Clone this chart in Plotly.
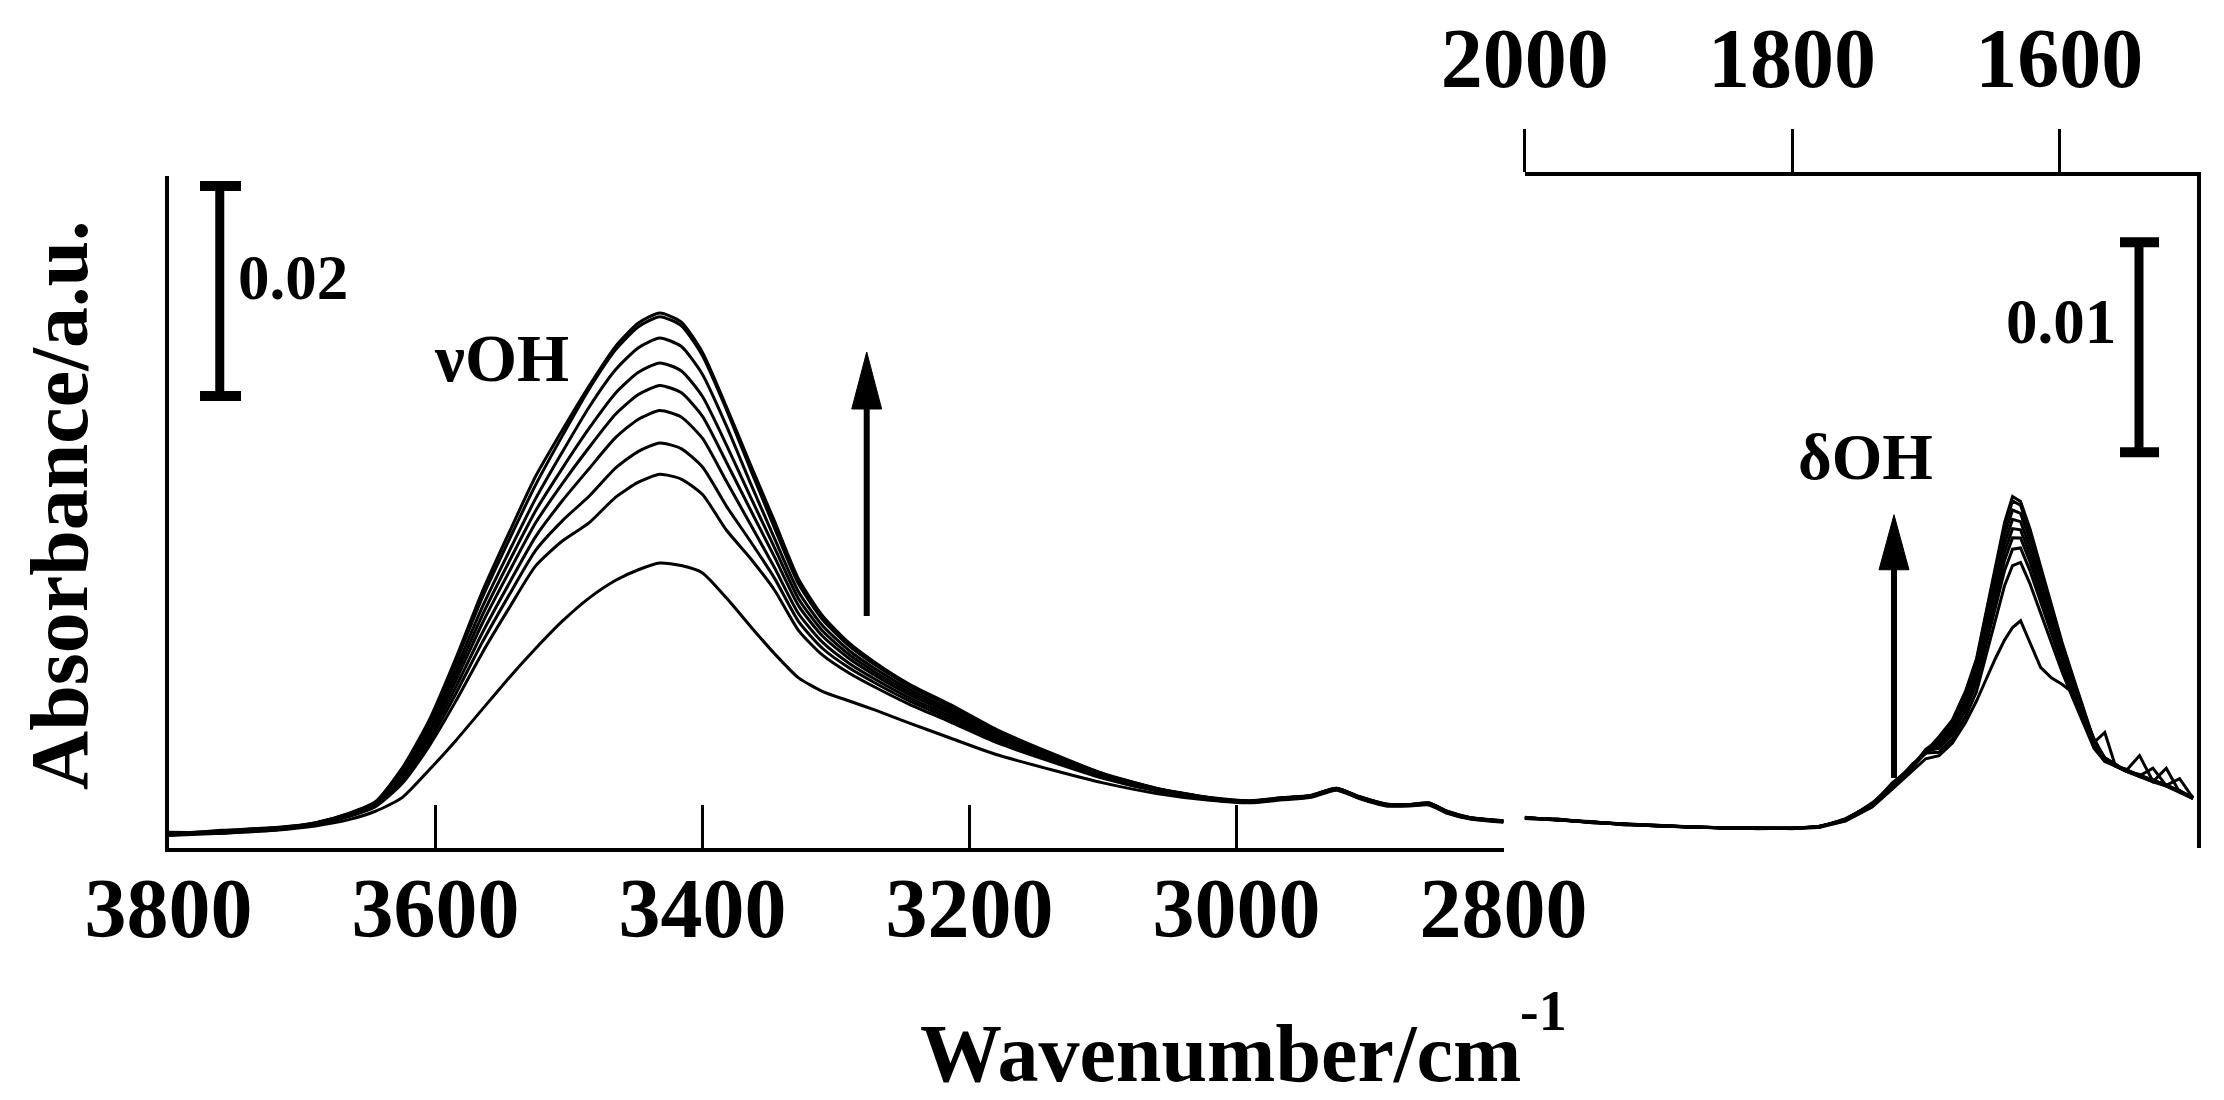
import plotly.graph_objects as go

# ---------------- data ----------------
W_L = [3800, 3760, 3720, 3690, 3665, 3645, 3625, 3605, 3585, 3565, 3545, 3525, 3505, 3485, 3465,
       3448, 3432, 3416, 3400, 3382, 3364, 3346, 3328, 3310, 3290, 3270, 3245, 3215, 3180, 3140,
       3100, 3060, 3020, 2990, 2965, 2945, 2925, 2908, 2888, 2870, 2856, 2842, 2825, 2800]

L1 = [.00140, .00160, .00190, .00240, .00330, .00440, .00760, .01210, .01800, .02440, .03000, .03540, .03980, .04400, .04780,
      .05000, .05095, .05010, .04720, .04200, .03650, .03110, .02560, .02210, .01950, .01760, .01560, .01370, .01130, .00910,
      .00710, .00570, .00480, .00450, .00480, .00500, .00570, .00490, .00420, .00415, .00430, .00350, .00290, .00260]
L2 = [.00150, .00150, .00182, .00239, .00327, .00436, .00746, .01187, .01761, .02384, .02931, .03458, .03925, .04370, .04747,
      .04965, .05060, .04975, .04689, .04173, .03604, .03047, .02513, .02174, .01923, .01738, .01542, .01354, .01118, .00902,
      .00706, .00568, .00479, .00448, .00478, .00498, .00568, .00488, .00418, .00414, .00428, .00348, .00289, .00259]
L3 = [.00128, .00168, .00195, .00236, .00322, .00428, .00724, .01149, .01699, .02294, .02821, .03327, .03771, .04198, .04557,
      .04765, .04857, .04778, .04510, .04018, .03473, .02946, .02438, .02116, .01879, .01702, .01512, .01328, .01099, .00889,
      .00698, .00564, .00477, .00446, .00476, .00496, .00566, .00486, .00416, .00412, .00426, .00346, .00287, .00258]
L4 = [.00142, .00145, .00178, .00234, .00318, .00422, .00704, .01116, .01644, .02216, .02724, .03212, .03616, .03996, .04334,
      .04530, .04619, .04546, .04300, .03836, .03342, .02858, .02372, .02066, .01840, .01670, .01486, .01306, .01082, .00878,
      .00692, .00560, .00475, .00444, .00474, .00494, .00564, .00484, .00414, .00411, .00424, .00344, .00286, .00256]
L5 = [.00125, .00162, .00192, .00232, .00314, .00416, .00684, .01083, .01589, .02138, .02627, .03097, .03470, .03814, .04133,
      .04319, .04405, .04337, .04111, .03672, .03219, .02770, .02306, .02016, .01802, .01639, .01460, .01284, .01065, .00867,
      .00686, .00557, .00473, .00442, .00472, .00492, .00562, .00482, .00412, .00410, .00422, .00342, .00285, .00255]
L6 = [.00138, .00150, .00175, .00230, .00309, .00409, .00662, .01046, .01527, .02048, .02517, .02966, .03307, .03612, .03910,
      .04084, .04166, .04105, .03901, .03490, .03080, .02669, .02231, .01958, .01758, .01603, .01430, .01258, .01046, .00854,
      .00679, .00553, .00471, .00440, .00470, .00490, .00560, .00480, .00410, .00408, .00420, .00340, .00283, .00253]
L7 = [.00145, .00140, .00188, .00227, .00304, .00401, .00640, .01008, .01465, .01958, .02407, .02835, .03116, .03350, .03620,
      .03778, .03857, .03804, .03628, .03254, .02919, .02568, .02156, .01900, .01714, .01567, .01401, .01232, .01027, .00841,
      .00671, .00549, .00469, .00438, .00468, .00488, .00558, .00478, .00408, .00406, .00418, .00338, .00281, .00251]
L8 = [.00122, .00158, .00172, .00224, .00299, .00393, .00614, .00966, .01394, .01858, .02282, .02687, .02924, .03097, .03342,
      .03484, .03559, .03514, .03366, .03026, .02757, .02455, .02071, .01836, .01664, .01526, .01368, .01204, .01005, .00827,
      .00663, .00544, .00467, .00436, .00466, .00486, .00556, .00476, .00406, .00404, .00416, .00336, .00280, .00250]
L9 = [.00120, .00140, .00170, .00210, .00270, .00350, .00480, .00740, .01020, .01320, .01620, .01900, .02160, .02380, .02550,
      .02650, .02714, .02690, .02620, .02380, .02110, .01850, .01620, .01490, .01400, .01310, .01190, .01050, .00890, .00750,
      .00620, .00520, .00455, .00430, .00460, .00480, .00550, .00470, .00400, .00400, .00410, .00330, .00275, .00245]
LEFT_SERIES = [L1, L2, L3, L4, L5, L6, L7, L8, L9]

W_R = [2000, 1975, 1950, 1925, 1900, 1875, 1850, 1825, 1800, 1780, 1760, 1740, 1725, 1710, 1700,
       1690, 1680, 1670, 1662, 1655, 1648, 1641, 1635, 1629, 1622, 1614, 1606, 1598, 1590, 1582,
       1574, 1566, 1558, 1550, 1540, 1530, 1520, 1510, 1500]

R1 = [.00144, .00135, .00124, .00113, .00106, .00100, .00096, .00094, .00094, .00100, .00135, .00210, .00300, .00390, .00460,
      .00530, .00610, .00750, .00900, .01120, .01330, .01550, .01674, .01650, .01520, .01340, .01160, .00980, .00820, .00660,
      .00510, .00430, .00395, .00370, .00345, .00320, .00300, .00270, .00240]
R2 = [.00140, .00138, .00120, .00116, .00104, .00102, .00093, .00097, .00092, .00104, .00130, .00215, .00290, .00400, .00450,
      .00525, .00604, .00742, .00890, .01107, .01314, .01531, .01653, .01632, .01504, .01326, .01149, .00971, .00813, .00656,
      .00508, .00429, .00400, .00365, .00350, .00315, .00380, .00265, .00245]
R3 = [.00146, .00132, .00126, .00110, .00108, .00098, .00098, .00092, .00096, .00098, .00140, .00205, .00310, .00385, .00470,
      .00515, .00592, .00726, .00869, .01080, .01280, .01491, .01609, .01593, .01469, .01296, .01124, .00952, .00799, .00646,
      .00503, .00550, .00390, .00375, .00340, .00325, .00295, .00275, .00235]
R4 = [.00142, .00136, .00122, .00114, .00105, .00101, .00095, .00095, .00093, .00101, .00132, .00212, .00295, .00395, .00455,
      .00506, .00580, .00709, .00848, .01052, .01246, .01450, .01565, .01554, .01433, .01267, .01100, .00933, .00785, .00637,
      .00498, .00424, .00398, .00368, .00440, .00318, .00302, .00268, .00242]
R5 = [.00145, .00134, .00125, .00112, .00107, .00099, .00097, .00093, .00095, .00099, .00137, .00208, .00305, .00392, .00465,
      .00496, .00567, .00693, .00827, .01024, .01212, .01410, .01521, .01515, .01398, .01237, .01076, .00914, .00771, .00628,
      .00493, .00422, .00392, .00372, .00348, .00322, .00298, .00330, .00238]
R6 = [.00143, .00137, .00123, .00115, .00106, .00100, .00096, .00096, .00094, .00102, .00133, .00211, .00298, .00388, .00458,
      .00486, .00555, .00676, .00806, .00997, .01179, .01369, .01477, .01476, .01363, .01207, .01051, .00896, .00757, .00618,
      .00489, .00419, .00396, .00366, .00344, .00380, .00297, .00272, .00240]
R7 = [.00144, .00135, .00124, .00113, .00106, .00100, .00095, .00094, .00095, .00100, .00135, .00209, .00302, .00391, .00462,
      .00474, .00540, .00657, .00781, .00964, .01138, .01321, .01423, .01429, .01321, .01172, .01022, .00873, .00740, .00607,
      .00483, .00416, .00393, .00369, .00346, .00321, .00299, .00269, .00239]
R8 = [.00144, .00135, .00124, .00113, .00106, .00100, .00096, .00094, .00094, .00100, .00134, .00207, .00298, .00385, .00452,
      .00456, .00519, .00627, .00744, .00915, .01078, .01249, .01345, .01360, .01259, .01119, .00979, .00840, .00715, .00591,
      .00474, .00412, .00390, .00367, .00344, .00319, .00297, .00268, .00238]
R9 = [.00140, .00133, .00122, .00112, .00105, .00099, .00095, .00093, .00093, .00098, .00128, .00195, .00280, .00365, .00425,
      .00440, .00500, .00600, .00700, .00800, .00900, .00990, .01050, .01082, .00980, .00860, .00810, .00780, .00740, .00640,
      .00520, .00425, .00390, .00365, .00340, .00315, .00295, .00265, .00235]
RIGHT_SERIES = [R1, R2, R3, R4, R5, R6, R7, R8, R9]

LEFT_TICKS = [3800, 3600, 3400, 3200, 3000, 2800]
RIGHT_TICKS = [2000, 1800, 1600]

SCALE_LEFT = 0.02
SCALE_RIGHT = 0.01

# ---------------- layout helpers ----------------
FW, FH = 2224, 1100
def px(x):
    return x / FW
def py(y):
    return 1 - y / FH

FONT = "Liberation Serif, Times New Roman, serif"
Y_DOMAIN = [py(840), py(168)]

fig = go.Figure()
for s in LEFT_SERIES:
    fig.add_trace(go.Scatter(x=W_L, y=s, xaxis="x", yaxis="y", mode="lines",
                             line=dict(color="black", width=3, shape="spline", smoothing=0.6),
                             showlegend=False, hoverinfo="skip"))
for s in RIGHT_SERIES:
    fig.add_trace(go.Scatter(x=W_R, y=s, xaxis="x2", yaxis="y2", mode="lines",
                             line=dict(color="black", width=3),
                             showlegend=False, hoverinfo="skip"))

tickfont = dict(family=FONT, size=84, color="black", weight="bold")

fig.update_layout(
    template="none",
    width=FW, height=FH,
    margin=dict(l=0, r=0, t=0, b=0, autoexpand=False),
    paper_bgcolor="white", plot_bgcolor="white",
    xaxis=dict(domain=[px(160.5), px(1495.5)], range=[3800, 2800], anchor="y", automargin=False,
               tickmode="array", tickvals=LEFT_TICKS, ticks="inside", ticklen=43, tickwidth=3,
               tickcolor="black", showline=True, linewidth=4, linecolor="black",
               showgrid=False, zeroline=False, tickfont=tickfont, ticklabelstandoff=-16),
    yaxis=dict(domain=Y_DOMAIN, range=[0, 0.064], anchor="x", showline=True, linewidth=4,
               automargin=False, linecolor="black", showticklabels=False, ticks="",
               showgrid=False, zeroline=False),
    xaxis2=dict(domain=[px(1516.7), px(2189)], range=[2000, 1497], anchor="y2", side="top",
                automargin=False, tickmode="array", tickvals=RIGHT_TICKS, ticks="outside",
                ticklen=43, tickwidth=3, tickcolor="black", showline=True, linewidth=4,
                linecolor="black", showgrid=False, zeroline=False, tickfont=tickfont,
                ticklabelstandoff=8),
    yaxis2=dict(domain=Y_DOMAIN, range=[0, 0.032], anchor="x2", side="right", showline=True,
                automargin=False, linewidth=4, linecolor="black", showticklabels=False, ticks="",
                showgrid=False, zeroline=False),
)

shapes = []
# scale bar left (0.02)
lb_x, lb_y0 = 3761.6, 0.04305
shapes.append(dict(type="line", xref="x", yref="y", x0=lb_x, x1=lb_x, y0=lb_y0, y1=lb_y0 + SCALE_LEFT,
                   line=dict(color="black", width=9)))
for yy in (lb_y0, lb_y0 + SCALE_LEFT):
    shapes.append(dict(type="line", xref="x", yref="y", x0=3776.4, x1=3745.7, y0=yy, y1=yy,
                       line=dict(color="black", width=10)))
# scale bar right (0.01)
rb_x, rb_y0 = 1540.4, 0.01884
shapes.append(dict(type="line", xref="x2", yref="y2", x0=rb_x, x1=rb_x, y0=rb_y0, y1=rb_y0 + SCALE_RIGHT,
                   line=dict(color="black", width=9)))
for yy in (rb_y0, rb_y0 + SCALE_RIGHT):
    shapes.append(dict(type="line", xref="x2", yref="y2", x0=1554.6, x1=1525.4, y0=yy, y1=yy,
                       line=dict(color="black", width=10)))

# arrows
def arrow(xref, yref, x, y0, ybase, ytip, half):
    shapes.append(dict(type="line", xref=xref, yref=yref, x0=x, x1=x, y0=y0, y1=ybase + 0.0001,
                       line=dict(color="black", width=6)))
    shapes.append(dict(type="path", xref=xref, yref=yref,
                       path=f"M {x - half},{ybase} L {x + half},{ybase} L {x},{ytip} Z",
                       fillcolor="black", line=dict(color="black", width=1)))

arrow("x", "y", 3277, 0.0221, 0.04181, 0.04724, 11.2)
arrow("x2", "y2", 1723.7, 0.00333, 0.01325, 0.01587, 11.2)
fig.update_layout(shapes=shapes)

def txt(text, x, y, size, angle=0):
    return dict(text=text, x=px(x), y=py(y), xref="paper", yref="paper", showarrow=False,
                xanchor="center", yanchor="middle", textangle=angle,
                font=dict(family=FONT, size=size, color="black", weight="bold"))

fig.update_layout(annotations=[
    txt("0.02", 285, 270, 63),
    txt("νOH", 493, 350, 67),
    txt("δOH", 1857, 449, 65),
    txt("0.01", 2053, 314, 63),
    txt("Absorbance/a.u.", 51, 497, 82, -90),
    txt("Wavenumber/cm", 1212, 1045, 82),
    txt("-1", 1535, 1003, 56),
])

fig.write_html("out.html")
